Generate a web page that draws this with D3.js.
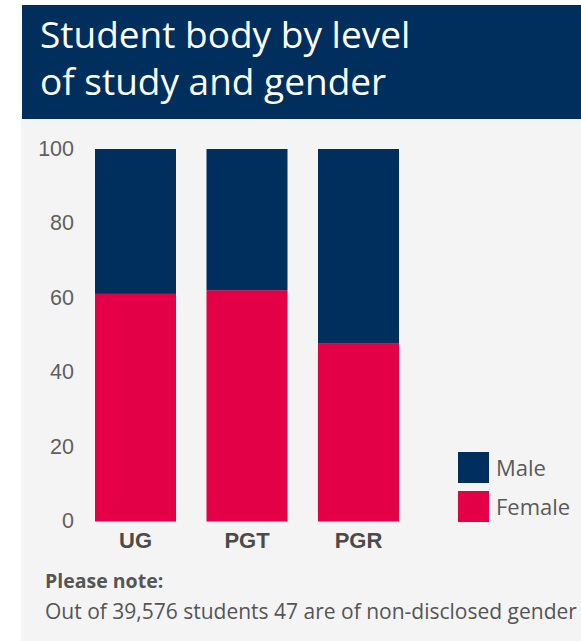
<!DOCTYPE html>
<html>
<head>
<meta charset="utf-8">
<script src="https://cdn.jsdelivr.net/npm/d3@7"></script>
<style>
  html, body { margin: 0; padding: 0; background: #ffffff; }
  svg { display: block; }
</style>
</head>
<body>
<svg id="chart" width="581" height="641"></svg>
<script>
// Share of students by level of study, split by gender (percent)
const levels = ["UG", "PGT", "PGR"];
const femaleShare = [61.1, 62.1, 47.9];
const maleShare = [38.9, 37.9, 52.1];
const yTicks = [0, 20, 40, 60, 80, 100];
const seriesNames = ["Male", "Female"];
const seriesColors = ["#002e5d", "#e40046"];

const titleLines = ["Student body by level", "of study and gender"];
const noteHeading = "Please note:";
const noteText = "Out of 39,576 students 47 are of non-disclosed gender";

const svg = d3.select("#chart");

// Panel backgrounds
svg.append("rect").attr("x", 21).attr("y", 118).attr("width", 560).attr("height", 523).attr("fill", "#f4f4f4");
svg.append("rect").attr("x", 22).attr("y", 5).attr("width", 559).attr("height", 114).attr("fill", "#002e5d");

// Title
svg.append("text")
  .attr("font-family", "'Open Sans', sans-serif")
  .attr("font-size", 37)
  .attr("fill", "#ffffff")
  .selectAll("tspan").data(titleLines).join("tspan")
  .attr("x", 40)
  .attr("y", (d, i) => 48 + i * 47)
  .text(d => d);

// Scales: step 111.5 px, bar width 81 px
const x = d3.scaleBand().domain(levels).range([39.25, 454.75]).paddingInner(0.2735).paddingOuter(0.5);
const y = d3.scaleLinear().domain([0, 100]).range([521.5, 149]);

// Stacked bars: female at the bottom, male on top
const rows = levels.map((lv, i) => ({ level: lv, Female: femaleShare[i], Male: maleShare[i] }));
const stack = d3.stack().keys(["Female", "Male"])(rows);
const color = d3.scaleOrdinal().domain(seriesNames).range(seriesColors);

svg.append("g").selectAll("g").data(stack).join("g")
  .attr("fill", d => color(d.key))
  .selectAll("rect").data(d => d).join("rect")
  .attr("x", d => x(d.data.level))
  .attr("width", x.bandwidth())
  .attr("y", d => y(d[1]))
  .attr("height", d => y(d[0]) - y(d[1]));

// Y axis (labels only)
const yAxis = svg.append("g")
  .attr("transform", "translate(74,0)")
  .call(d3.axisLeft(y).tickValues(yTicks).tickSize(0).tickPadding(0));
yAxis.select(".domain").remove();
yAxis.selectAll("text")
  .attr("font-family", "'Liberation Sans', Arial, sans-serif")
  .attr("font-size", 21.5)
  .attr("fill", "#5f5f5f")
  .attr("dy", "0.3em");

// X axis (labels only)
const xAxis = svg.append("g")
  .attr("transform", "translate(0,548)")
  .call(d3.axisBottom(x).tickSize(0).tickPadding(0));
xAxis.select(".domain").remove();
xAxis.selectAll("text")
  .attr("font-family", "'Liberation Sans', Arial, sans-serif")
  .attr("font-size", 22)
  .attr("font-weight", "bold")
  .attr("fill", "#4a4a4a")
  .attr("dy", "0em");

// Legend
const legend = svg.append("g").selectAll("g").data(seriesNames).join("g")
  .attr("transform", (d, i) => `translate(458,${452 + i * 39})`);
legend.append("rect").attr("width", 31).attr("height", 31).attr("fill", d => color(d));
legend.append("text")
  .attr("x", 38).attr("y", 16).attr("dy", "0.35em")
  .attr("font-family", "'Open Sans', sans-serif")
  .attr("font-size", 22)
  .attr("fill", "#5a5a5a")
  .text(d => d);

// Footnote
svg.append("text")
  .attr("x", 45).attr("y", 588)
  .attr("font-family", "'Open Sans', sans-serif")
  .attr("font-size", 19.5)
  .attr("font-weight", "bold")
  .attr("fill", "#555555")
  .text(noteHeading);
svg.append("text")
  .attr("x", 45).attr("y", 619)
  .attr("font-family", "'Open Sans', sans-serif")
  .attr("font-size", 21)
  .attr("fill", "#555555")
  .text(noteText);
</script>
</body>
</html>
